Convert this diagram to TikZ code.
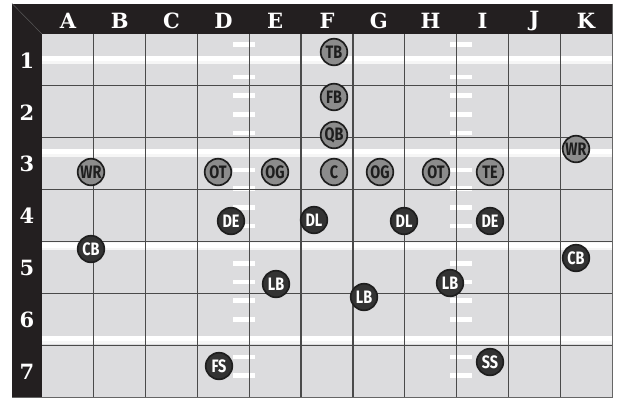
\documentclass[tikz,border=0pt]{standalone}
\usepackage{fontspec}
\newfontfamily\hdrfont{DejaVu Serif}
\newfontfamily\plfont[FakeStretch=0.8]{Fira Sans}
\definecolor{framebk}{HTML}{231F20}
\definecolor{fieldgr}{HTML}{DCDCDE}
\definecolor{gridln}{HTML}{4A4A4A}
\definecolor{offfill}{HTML}{8C8C8C}
\definecolor{deffill}{HTML}{333333}
\definecolor{ringcol}{HTML}{1E1E1E}
\tikzset{
  hdr/.style={text=white, font=\hdrfont\bfseries\fontsize{21}{21}\selectfont, inner sep=0pt, anchor=center},
  player/.style={circle, minimum size=26.6pt, inner sep=0pt, draw=ringcol, line width=1.7pt,
                 font=\plfont\bfseries\fontsize{18}{18}\selectfont},
  offp/.style={player, fill=offfill, text=ringcol},
  defp/.style={player, fill=deffill, text=white},
  yard/.style={draw=white, line width=5pt},
  hashm/.style={draw=white, line width=4.6pt},
  gridl/.style={draw=gridln, line width=1.2pt}
}
\begin{document}
\begin{tikzpicture}[x=1pt, y=-1pt]
\useasboundingbox (0,0) rectangle (617,400);
\fill[white] (0,0) rectangle (617,400);
% frame
\fill[framebk] (12,3.5) rectangle (612,397);
\fill[fieldgr] (42,34) rectangle (612,397);
\draw[gray!70!black, line width=0.5pt] (12,3.5) -- (42,34);
% yard lines
\foreach \yy in {58.5,151.5,245,338.5}{
  \draw[draw=white!93!gray, line width=8pt] (42,\yy+1) -- (612,\yy+1);
  \draw[yard] (42,\yy) -- (612,\yy);
}
% hash marks
\foreach \yy in {44.5,77,95.7,114.4,133,170,188.7,207.4,226,263.4,282,300.7,319.4,357,375.7}{
  \draw[hashm] (233,\yy) -- (255,\yy);
  \draw[hashm] (450,\yy) -- (472,\yy);
}
% grid
\foreach \i in {1,...,10}{
  \draw[gridl] (42+\i*51.818,34) -- (42+\i*51.818,397);
}
\foreach \j in {1,...,6}{
  \draw[gridl] (42,34+\j*51.857) -- (612,34+\j*51.857);
}
\draw[draw=gray!80!black, line width=1pt] (612,3.5) -- (612,397) -- (12,397);
% headers
\foreach \c [count=\i from 0] in {A,B,C,D,E,F,G,H,I,J,K}{
  \node[hdr] (col\c) at (42+\i*51.818+25.9,21) {\c};
}
\foreach \r [count=\j from 0] in {1,...,7}{
  \node[hdr] (row\r) at (27,34+\j*51.857+26.5) {\r};
}
% offense
\node[offp] (tb) at (334,52) {TB};
\node[offp] (fb) at (334,97) {FB};
\node[offp] (qb) at (334,135) {QB};
\node[offp] (wrr) at (576,149) {WR};
\node[offp] (wrl) at (91,172) {WR};
\node[offp] (otl) at (218,172) {OT};
\node[offp] (ogl) at (275,172) {OG};
\node[offp] (c) at (334,172) {C};
\node[offp] (ogr) at (380,172) {OG};
\node[offp] (otr) at (436,172) {OT};
\node[offp] (te) at (490,172) {TE};
% defense
\node[defp] (del) at (231,221) {DE};
\node[defp] (dll) at (314,220) {DL};
\node[defp] (dlr) at (404,221) {DL};
\node[defp] (der) at (490,221) {DE};
\node[defp] (cbl) at (91,249) {CB};
\node[defp] (cbr) at (576,258) {CB};
\node[defp] (lbl) at (276,284) {LB};
\node[defp] (lbm) at (364,297) {LB};
\node[defp] (lbr) at (450,283) {LB};
\node[defp] (fs) at (219,366) {FS};
\node[defp] (ss) at (490,362) {SS};
\end{tikzpicture}
\end{document}
